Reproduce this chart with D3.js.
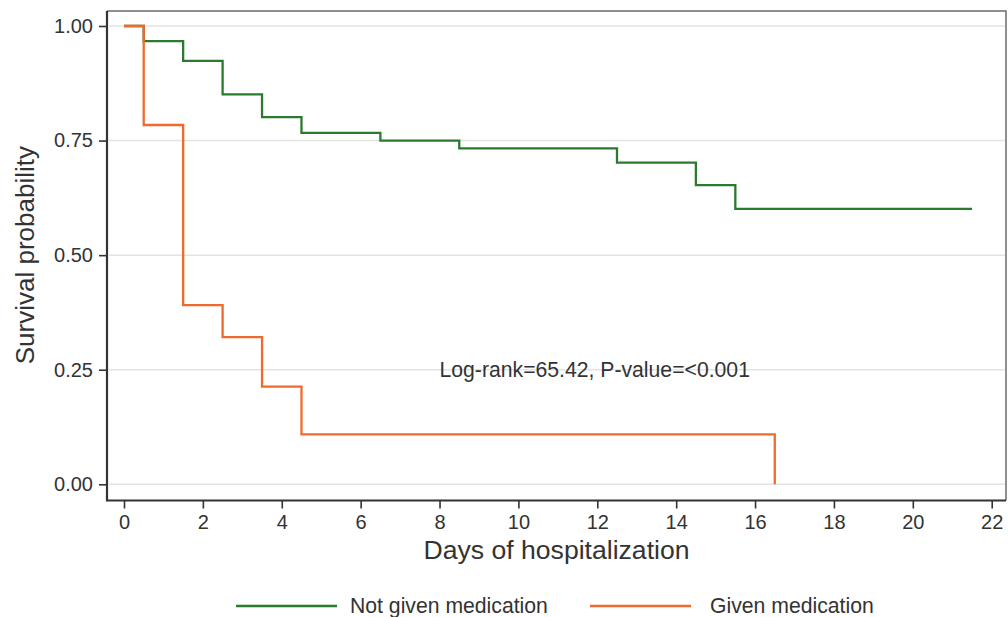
<!DOCTYPE html>
<html>
<head>
<meta charset="utf-8">
<script src="https://cdn.jsdelivr.net/npm/d3@7"></script>
<style>
  body { margin: 0; background: #fff; }
  svg { display: block; font-family: "Liberation Sans", Arial, sans-serif; }
</style>
</head>
<body>
<svg width="1008" height="617"></svg>
<script>
// Kaplan-Meier estimates
const notGivenDays = [0, 0.5, 1.5, 2.5, 3.5, 4.5, 6.5, 8.5, 12.5, 14.5, 15.5, 21.5];
const notGivenSurv = [1.0, 0.967, 0.924, 0.851, 0.801, 0.767, 0.75, 0.733, 0.702, 0.653, 0.601, 0.601];
const givenDays = [0, 0.5, 1.5, 2.5, 3.5, 4.5, 16.5];
const givenSurv = [1.0, 0.784, 0.391, 0.321, 0.213, 0.109, 0.0];

const xTicks = d3.range(0, 23, 2);
const yTicks = [0, 0.25, 0.5, 0.75, 1];
const seriesNames = ["Not given medication", "Given medication"];
const seriesColors = ["#2b7a2e", "#ef6a2c"];
const annotation = "Log-rank=65.42, P-value=<0.001";

const frame = { left: 107, right: 1006, top: 11, bottom: 500.5 };

const x = d3.scaleLinear().domain([0, 22]).range([124, 991.7]);
const y = d3.scaleLinear().domain([0, 1]).range([484.3, 26]);

const svg = d3.select("svg");

// grid
svg.append("g")
  .selectAll("line")
  .data(yTicks)
  .join("line")
  .attr("x1", frame.left + 2)
  .attr("x2", frame.right - 1)
  .attr("y1", (d) => y(d))
  .attr("y2", (d) => y(d))
  .attr("stroke", "#e3e3e3")
  .attr("stroke-width", 1.5);

// top and right border
svg.append("path")
  .attr("d", `M${frame.left},${frame.top}H${frame.right}V${frame.bottom}`)
  .attr("fill", "none")
  .attr("stroke", "#6b6b6b")
  .attr("stroke-width", 1.5);

// axes
const yAxis = svg.append("g")
  .attr("transform", `translate(${frame.left},0)`)
  .call(d3.axisLeft(y).tickValues(yTicks).tickFormat(d3.format(".2f")).tickSize(8).tickPadding(6));

const xAxis = svg.append("g")
  .attr("transform", `translate(0,${frame.bottom})`)
  .call(d3.axisBottom(x).tickValues(xTicks).tickSize(8).tickPadding(6));

yAxis.select(".domain").remove();
xAxis.select(".domain").remove();

svg.append("path")
  .attr("d", `M${frame.left},${frame.top}V${frame.bottom}H${frame.right}`)
  .attr("fill", "none")
  .attr("stroke", "#333")
  .attr("stroke-width", 2.2);

[yAxis, xAxis].forEach((g) => {
  g.selectAll(".tick line").attr("stroke", "#333").attr("stroke-width", 1.6);
  g.selectAll(".tick text")
    .attr("fill", "#333")
    .style("font-size", "20px")
    .style("font-family", "'Liberation Sans', Arial, sans-serif");
});

// survival curves
const line = d3.line()
  .x((d) => x(d[0]))
  .y((d) => y(d[1]))
  .curve(d3.curveStepAfter);

const series = [
  d3.zip(notGivenDays, notGivenSurv),
  d3.zip(givenDays, givenSurv),
];

svg.append("g")
  .selectAll("path")
  .data(series)
  .join("path")
  .attr("d", line)
  .attr("fill", "none")
  .attr("stroke", (d, i) => seriesColors[i])
  .attr("stroke-width", 2.3);

// annotation
svg.append("text")
  .attr("x", x(8))
  .attr("y", y(0.25))
  .attr("dy", "0.35em")
  .attr("fill", "#333")
  .style("font-size", "21.2px")
  .text(annotation);

// axis titles
svg.append("text")
  .attr("x", (frame.left + frame.right) / 2)
  .attr("y", 559)
  .attr("text-anchor", "middle")
  .attr("fill", "#333")
  .style("font-size", "26.6px")
  .text("Days of hospitalization");

svg.append("text")
  .attr("transform", `translate(34,${y(0.5)}) rotate(-90)`)
  .attr("text-anchor", "middle")
  .attr("fill", "#333")
  .style("font-size", "26px")
  .text("Survival probability");

// legend
const legendX = [236, 590];
const legend = svg.append("g")
  .selectAll("g")
  .data(seriesNames)
  .join("g")
  .attr("transform", (d, i) => `translate(${legendX[i]},606)`);

legend.append("line")
  .attr("x1", 0)
  .attr("x2", 101)
  .attr("stroke", (d, i) => seriesColors[i])
  .attr("stroke-width", 2.3);

legend.append("text")
  .attr("x", (d, i) => (i === 0 ? 114 : 120))
  .attr("dy", "0.35em")
  .attr("fill", "#333")
  .style("font-size", "21.2px")
  .text((d) => d);
</script>
</body>
</html>
